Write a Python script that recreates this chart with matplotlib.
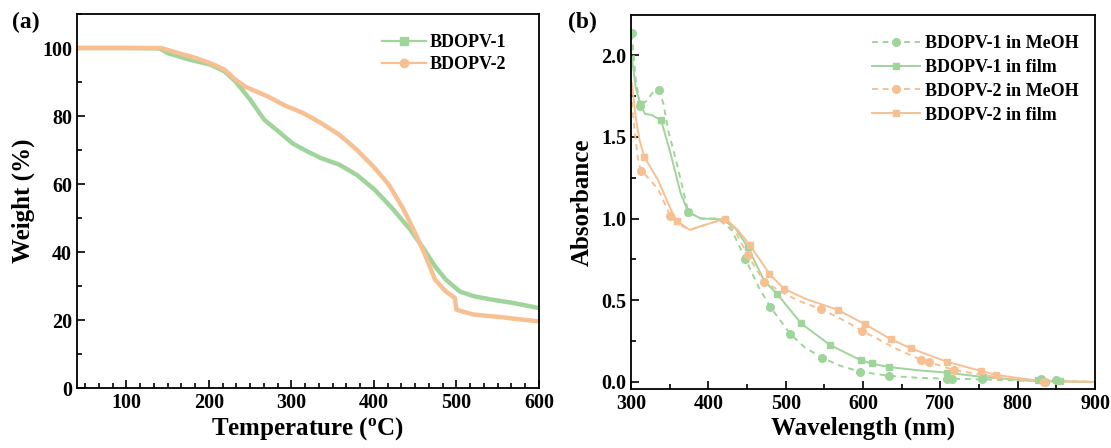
import matplotlib.pyplot as plt
from matplotlib.ticker import MultipleLocator

plt.rcParams['font.family'] = ['Liberation Serif', 'DejaVu Serif']
plt.rcParams['font.weight'] = 'bold'
plt.rcParams['mathtext.fontset'] = 'custom'
plt.rcParams['mathtext.rm'] = 'Liberation Serif:bold'
plt.rcParams['mathtext.bf'] = 'Liberation Serif:bold'

GREEN = '#9fd49b'
ORANGE = '#f6c093'

# (a) TGA data
tga_t1 = [40, 100, 140, 150, 176, 202, 219, 232, 250, 267, 284, 301, 319, 336, 358,
          379, 401, 422, 444, 461, 474, 487, 504, 521, 543, 569, 600]
tga_w1 = [100, 100, 99.9, 98.5, 96.6, 95.1, 93.1, 90.2, 84.8, 78.9, 75.5, 72.0, 69.6,
          67.6, 65.7, 62.7, 58.3, 52.9, 46.6, 40.7, 35.8, 31.9, 28.4, 27.0, 26.0, 25.0, 23.5]
tga_t2 = [40, 100, 142, 163, 185, 206, 219, 232, 245, 271, 293, 314, 336, 358, 379,
          401, 418, 435, 448, 461, 474, 487, 498, 500, 521, 552, 573, 600]
tga_w2 = [100, 100, 100, 98.5, 97.0, 95.1, 93.6, 90.7, 88.5, 85.8, 83.0, 80.9, 77.9,
          74.5, 70.1, 64.7, 59.8, 52.9, 46.6, 39.7, 31.9, 28.4, 26.5, 23.0, 21.6, 20.9,
          20.3, 19.6]

# (b) absorbance curves
wl_g_meoh = [301, 306, 312, 320, 328, 336, 342, 348, 359, 374, 390, 412, 430, 448,
             465, 480, 506, 525, 547, 570, 596, 634, 670, 709, 754, 820, 860, 900]
ab_g_meoh = [2.13, 1.85, 1.69, 1.72, 1.77, 1.786, 1.70, 1.54, 1.34, 1.04, 1.0, 1.0,
             0.93, 0.753, 0.58, 0.46, 0.293, 0.21, 0.149, 0.10, 0.063, 0.037, 0.026,
             0.02, 0.016, 0.006, 0.004, 0.0]
wl_g_film = [301, 306, 312, 318, 327, 339, 345, 351, 364, 374, 390, 418, 435, 451,
             472, 489, 520, 557, 597, 611, 633, 670, 709, 754, 820, 860, 900]
ab_g_film = [1.99, 1.80, 1.70, 1.64, 1.633, 1.60, 1.50, 1.40, 1.156, 1.04, 1.0, 0.995,
             0.94, 0.825, 0.62, 0.538, 0.358, 0.227, 0.133, 0.113, 0.092, 0.072, 0.057,
             0.031, 0.006, 0.003, 0.0]
wl_o_meoh = [301, 305, 309, 313, 320, 335, 351, 360, 376, 395, 419, 435, 451, 472,
             499, 520, 546, 570, 599, 640, 675, 685, 718, 777, 820, 860, 900]
ab_o_meoh = [1.715, 1.52, 1.36, 1.29, 1.26, 1.18, 1.013, 0.97, 0.93, 0.96, 0.995, 0.92,
             0.774, 0.614, 0.538, 0.49, 0.446, 0.39, 0.313, 0.21, 0.135, 0.123, 0.072,
             0.027, 0.006, 0.003, 0.0]
wl_o_film = [301, 306, 311, 317, 335, 351, 359, 376, 395, 422, 438, 454, 479, 498,
             526, 568, 602, 636, 662, 709, 752, 772, 820, 860, 900]
ab_o_film = [1.83, 1.62, 1.48, 1.378, 1.234, 1.06, 0.985, 0.93, 0.96, 1.0, 0.93, 0.835,
             0.661, 0.569, 0.508, 0.44, 0.354, 0.262, 0.205, 0.123, 0.068, 0.043, 0.012,
             0.004, 0.0]

# marker positions on each curve
mk_g_meoh_x = [301, 312, 336, 374, 448, 480, 506, 547, 596, 634, 709, 715, 754, 830, 835, 850]
mk_g_meoh_y = [2.135, 1.69, 1.786, 1.04, 0.753, 0.46, 0.293, 0.149, 0.063, 0.037, 0.02,
               0.02, 0.016, 0.02, 0.0, 0.01]
mk_g_film_x = [312, 339, 374, 451, 489, 520, 557, 597, 611, 633, 709, 755, 826, 855]
mk_g_film_y = [1.70, 1.60, 1.04, 0.825, 0.538, 0.358, 0.227, 0.133, 0.113, 0.092, 0.057,
               0.03, 0.01, 0.003]
mk_o_meoh_x = [313, 351, 451, 472, 546, 599, 675, 685, 718, 834]
mk_o_meoh_y = [1.29, 1.013, 0.774, 0.614, 0.446, 0.313, 0.135, 0.123, 0.072, 0.0]
mk_o_film_x = [317, 359, 422, 454, 479, 498, 568, 602, 636, 662, 709, 752, 772]
mk_o_film_y = [1.378, 0.985, 1.0, 0.835, 0.661, 0.569, 0.44, 0.354, 0.262, 0.205, 0.123,
               0.068, 0.043]

fig = plt.figure(figsize=(11.11, 4.48), dpi=100)
ax1 = fig.add_axes([0.0693, 0.1339, 0.4158, 0.8348])
ax2 = fig.add_axes([0.568, 0.1317, 0.4176, 0.8348])

# ---- (a)
ax1.plot(tga_t1, tga_w1, color=GREEN, lw=3.2, solid_capstyle='butt')
ax1.plot(tga_t2, tga_w2, color=ORANGE, lw=3.2, solid_capstyle='butt')
# legend handles
h1, = ax1.plot([], [], color=GREEN, lw=1.6, marker='s', ms=6, label='BDOPV-1')
h2, = ax1.plot([], [], color=ORANGE, lw=1.6, marker='o', ms=6, label='BDOPV-2')
ax1.legend(handles=[h1, h2], loc='upper right', bbox_to_anchor=(0.965, 0.99),
           frameon=False, fontsize=13, handlelength=2.4, handletextpad=0.25,
           labelspacing=0.3)
ax1.set_xlim(40, 600)
ax1.set_ylim(0, 110)
ax1.xaxis.set_major_locator(MultipleLocator(100))
ax1.xaxis.set_minor_locator(MultipleLocator(100 / 6))
ax1.yaxis.set_major_locator(MultipleLocator(20))
ax1.yaxis.set_minor_locator(MultipleLocator(10))
ax1.set_xlabel(r'Temperature ($\mathregular{^o}$C)', fontsize=18, fontweight='bold',
               labelpad=2)
ax1.set_ylabel('Weight (%)', fontsize=18, fontweight='bold', labelpad=5)

# ---- (b)
ax2.plot(wl_g_meoh, ab_g_meoh, color=GREEN, lw=1.4, ls=(0, (3, 2.5)))
ax2.plot(wl_g_film, ab_g_film, color=GREEN, lw=1.4)
ax2.plot(wl_o_meoh, ab_o_meoh, color=ORANGE, lw=1.4, ls=(0, (3, 2.5)))
ax2.plot(wl_o_film, ab_o_film, color=ORANGE, lw=1.4)
ax2.plot(mk_g_meoh_x, mk_g_meoh_y, 'o', color=GREEN, ms=5.5)
ax2.plot(mk_g_film_x, mk_g_film_y, 's', color=GREEN, ms=5)
ax2.plot(mk_o_meoh_x, mk_o_meoh_y, 'o', color=ORANGE, ms=5.5)
ax2.plot(mk_o_film_x, mk_o_film_y, 's', color=ORANGE, ms=5)
l1, = ax2.plot([], [], color=GREEN, lw=1.4, ls=(0, (3, 2.5)), marker='o', ms=5.5,
               label='BDOPV-1 in MeOH')
l2, = ax2.plot([], [], color=GREEN, lw=1.4, marker='s', ms=5, label='BDOPV-1 in film')
l3, = ax2.plot([], [], color=ORANGE, lw=1.4, ls=(0, (3, 2.5)), marker='o', ms=5.5,
               label='BDOPV-2 in MeOH')
l4, = ax2.plot([], [], color=ORANGE, lw=1.4, marker='s', ms=5, label='BDOPV-2 in film')
ax2.legend(handles=[l1, l2, l3, l4], loc='upper right', bbox_to_anchor=(1.0, 0.99),
           frameon=False, fontsize=13, handlelength=2.7, handletextpad=0.25,
           labelspacing=0.38)
ax2.set_xlim(300, 900)
ax2.set_ylim(-0.043, 2.245)
ax2.xaxis.set_major_locator(MultipleLocator(100))
ax2.xaxis.set_minor_locator(MultipleLocator(50))
ax2.yaxis.set_major_locator(MultipleLocator(0.5))
ax2.yaxis.set_minor_locator(MultipleLocator(0.25))
ax2.set_xlabel('Wavelength (nm)', fontsize=18, fontweight='bold', labelpad=2)
ax2.set_ylabel('Absorbance', fontsize=18, fontweight='bold', labelpad=5)

for ax in (ax1, ax2):
    ax.tick_params(which='both', direction='in', top=False, right=False,
                   labelsize=14.5, width=1.2)
    ax.tick_params(which='major', length=6)
    ax.tick_params(which='minor', length=3.5)
    for sp in ax.spines.values():
        sp.set_linewidth(1.3)
    for lab in ax.get_xticklabels() + ax.get_yticklabels():
        lab.set_fontweight('bold')

ax2.yaxis.set_major_formatter(plt.FormatStrFormatter('%.1f'))

fig.text(0.011, 0.95, '(a)', fontsize=17, fontweight='bold', va='center')
fig.text(0.511, 0.95, '(b)', fontsize=17, fontweight='bold', va='center')

fig.savefig('out.png', dpi=100)
